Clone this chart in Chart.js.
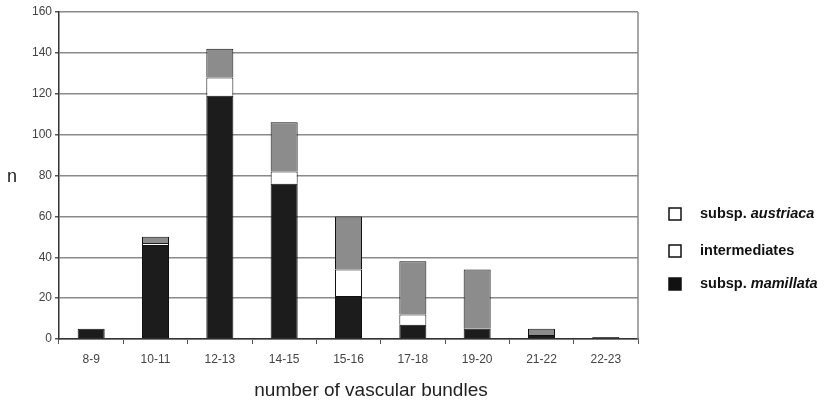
<!DOCTYPE html>
<html>
<head>
<meta charset="utf-8">
<script src="https://cdn.jsdelivr.net/npm/chart.js@4"></script>
<style>
  html, body { margin: 0; padding: 0; background: #fff; }
  #wrap { width: 825px; height: 401px; position: relative; }
</style>
</head>
<body>
<div id="wrap"><canvas id="chart"></canvas></div>
<script>
// bundle classes on the x axis
const categories = ['8-9', '10-11', '12-13', '14-15', '15-16', '17-18', '19-20', '21-22', '22-23'];
// counts per class
const mamillata     = [5, 46, 119, 76, 21, 7, 5, 2, 1];
const intermediates = [0, 1, 9, 6, 13, 5, 0, 0, 0];
const austriaca     = [0, 3, 14, 24, 26, 26, 29, 3, 0];
const yTicks = [0, 20, 40, 60, 80, 100, 120, 140, 160];

const FONT = '"Liberation Sans", Arial, sans-serif';

// legend, axis titles and right frame drawn by hand
const extras = {
  id: 'extras',
  afterDraw(chart) {
    const ctx = chart.ctx;
    const a = chart.chartArea;
    ctx.save();
    // right border of plot
    ctx.strokeStyle = '#8a8a8a';
    ctx.lineWidth = 1.5;
    ctx.beginPath();
    ctx.moveTo(a.right, a.top);
    ctx.lineTo(a.right, a.bottom);
    ctx.stroke();

    // "n"
    ctx.fillStyle = '#222';
    ctx.font = '18px ' + FONT;
    ctx.textAlign = 'left';
    ctx.textBaseline = 'middle';
    ctx.fillText('n', 7, 177);

    // x title
    ctx.textAlign = 'center';
    ctx.font = '19px ' + FONT;
    ctx.fillText('number of vascular bundles', 371, 391);

    // legend
    const items = [
      { pre: 'subsp. ', it: 'austriaca', fill: '#ffffff', y: 214 },
      { pre: 'intermediates', it: '', fill: '#ffffff', y: 251 },
      { pre: 'subsp. ', it: 'mamillata', fill: '#111111', y: 284 }
    ];
    items.forEach(function(item) {
      ctx.fillStyle = item.fill;
      ctx.strokeStyle = '#111';
      ctx.lineWidth = 1.5;
      ctx.fillRect(669, item.y - 6, 12, 12);
      ctx.strokeRect(669, item.y - 6, 12, 12);
      ctx.fillStyle = '#111';
      ctx.textAlign = 'left';
      ctx.font = 'bold 14.5px ' + FONT;
      ctx.fillText(item.pre, 700, item.y);
      const w = ctx.measureText(item.pre).width;
      ctx.font = 'italic bold 14.5px ' + FONT;
      ctx.fillText(item.it, 700 + w, item.y);
    });
    ctx.restore();
  }
};

new Chart(document.getElementById('chart'), {
  type: 'bar',
  data: {
    labels: categories,
    datasets: [
      { label: 'subsp. mamillata', data: mamillata, backgroundColor: '#1c1c1c', borderColor: '#111', borderWidth: 1 },
      { label: 'intermediates', data: intermediates, backgroundColor: '#ffffff', borderColor: '#111', borderWidth: 1 },
      { label: 'subsp. austriaca', data: austriaca, backgroundColor: '#8c8c8c', borderColor: '#111', borderWidth: 1 }
    ]
  },
  options: {
    responsive: true,
    maintainAspectRatio: false,
    animation: false,
    layout: { padding: { left: 0, right: 187, top: 12, bottom: 0 } },
    datasets: { bar: { categoryPercentage: 1, barPercentage: 0.42 } },
    scales: {
      x: {
        stacked: true,
        afterFit: function(s) { s.height = 62; },
        grid: { drawOnChartArea: false, drawTicks: true, tickLength: 5, color: '#555', offset: true },
        border: { color: '#333', width: 1.5 },
        ticks: { color: '#444', font: { family: FONT, size: 12 }, padding: 8 }
      },
      y: {
        stacked: true,
        min: 0,
        max: 160,
        afterFit: function(s) { s.width = 59; },
        afterBuildTicks: function(s) { s.ticks = yTicks.map(v => ({ value: v })); },
        grid: { color: '#8a8a8a', lineWidth: 1.5, tickLength: 4, tickColor: '#555' },
        border: { color: '#333', width: 1.5 },
        ticks: { color: '#444', font: { family: FONT, size: 12 }, padding: 3 }
      }
    },
    plugins: {
      legend: { display: false },
      tooltip: { enabled: false }
    }
  },
  plugins: [extras]
});
</script>
</body>
</html>
